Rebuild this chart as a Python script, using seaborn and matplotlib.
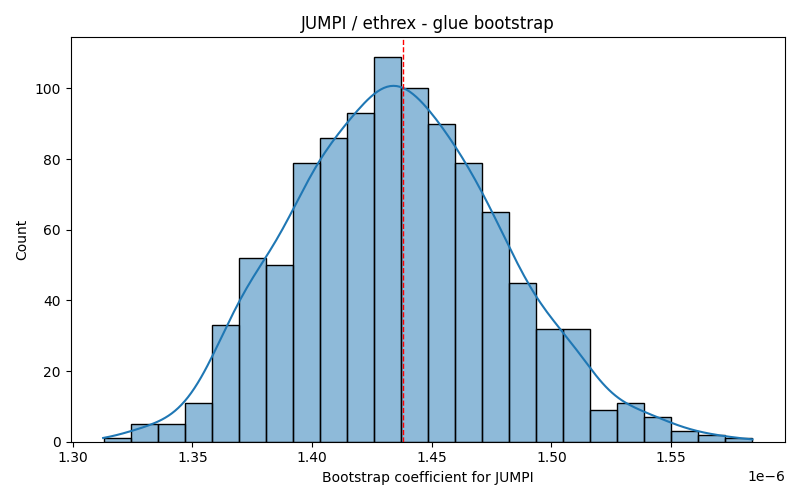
import numpy as np
import pandas as pd
import matplotlib
matplotlib.use("Agg")
import matplotlib.pyplot as plt
import seaborn as sns

# bootstrap histogram (24 bins, 1000 samples)
bin_start = 1.3129e-6
bin_end = 1.5838e-6
counts = [1, 5, 5, 11, 33, 52, 50, 79, 86, 93, 109, 100,
          90, 79, 65, 45, 32, 32, 9, 11, 7, 3, 2, 1]
point_estimate = 1.4379e-6

edges = np.linspace(bin_start, bin_end, len(counts) + 1)
centers = (edges[:-1] + edges[1:]) / 2
df = pd.DataFrame({"coef": centers, "n": counts})

# weighted kde sees ~14 effective points, shrink bandwidth back to n=1000
# cut so the curve spans the bin edges, like the raw samples did
fig, ax = plt.subplots(figsize=(8, 5), dpi=100)
sns.histplot(data=df, x="coef", weights="n", bins=len(counts),
             binrange=(bin_start, bin_end), kde=True,
             kde_kws={"cut": 0.33, "bw_adjust": 0.42}, ax=ax)
ax.axvline(point_estimate, color="red", linestyle="--", linewidth=1)
ax.set_title("JUMPI / ethrex - glue bootstrap")
ax.set_xlabel("Bootstrap coefficient for JUMPI")
ax.set_ylabel("Count")
plt.tight_layout()
plt.savefig("out.png")
